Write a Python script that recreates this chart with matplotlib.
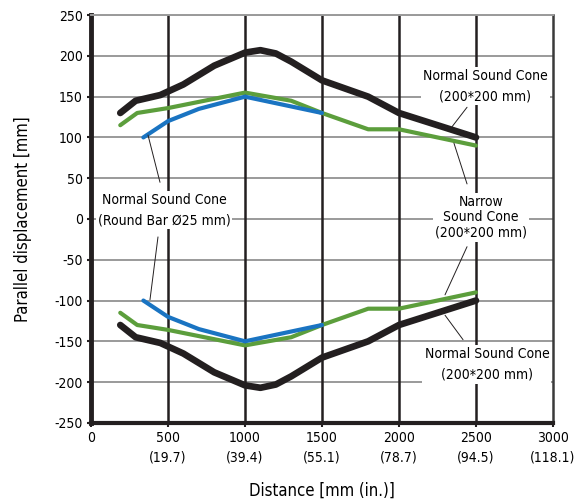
import numpy as np
import matplotlib
matplotlib.use("Agg")
import matplotlib.pyplot as plt

plt.rcParams['font.family'] = ['DejaVu Sans']
plt.rcParams['font.stretch'] = 'condensed'
plt.rcParams['axes.unicode_minus'] = False

# %%
# upper branch
x_black = [190, 290, 450, 600, 800, 1000, 1100, 1200, 1300, 1500, 1800, 2000, 2500]
y_black = [130, 145, 152, 165, 188, 204, 207, 203, 193, 170, 150, 130, 100]
x_green = [190, 300, 500, 1000, 1300, 1500, 1800, 2000, 2500]
y_green = [115, 130, 136, 155, 145, 130, 110, 110, 90]
x_blue = [340, 500, 700, 1000, 1500]
y_blue = [100, 120, 135, 150, 130]

# lower branch
y_black_low = [-130, -145, -152, -165, -188, -204, -207, -203, -193, -170, -150, -130, -100]
y_green_low = [-115, -130, -136, -155, -145, -130, -110, -110, -90]
y_blue_low = [-100, -120, -135, -150, -130]

xticks = [0, 500, 1000, 1500, 2000, 2500, 3000]
xlabels = ['0', '500\n(19.7)', '1000\n(39.4)', '1500\n(55.1)',
           '2000\n(78.7)', '2500\n(94.5)', '3000\n(118.1)']
yticks = list(range(-250, 251, 50))

black = '#231f20'
green = '#5c9e3c'
blue = '#1a74c2'

# %%
fig = plt.figure(figsize=(5.76, 5.04), dpi=100)
ax = fig.add_axes([0.158, 0.161, 0.802, 0.809])

for y in yticks:
    ax.axhline(y, color='#9a9a9a', lw=1.4, zorder=1)
for x in xticks[1:-1]:
    ax.axvline(x, color=black, lw=1.8, zorder=1)

kw = dict(solid_capstyle='round', solid_joinstyle='round', zorder=3)
ax.plot(x_black, y_black, color=black, lw=4.8, **kw)
ax.plot(x_black, y_black_low, color=black, lw=4.8, **kw)
ax.plot(x_green, y_green, color=green, lw=3.0, **kw)
ax.plot(x_green, y_green_low, color=green, lw=3.0, **kw)
ax.plot(x_blue, y_blue, color=blue, lw=3.0, **kw)
ax.plot(x_blue, y_blue_low, color=blue, lw=3.0, **kw)

ax.set_xlim(0, 3000)
ax.set_ylim(-250, 250)
ax.set_xticks(xticks)
ax.set_xticklabels(xlabels)
ax.set_yticks(yticks)
ax.tick_params(labelsize=10, length=3, width=1.5, color=black, pad=3)
for lab in ax.get_xticklabels():
    lab.set_linespacing(1.5)

ax.spines['left'].set_linewidth(3.5)
ax.spines['bottom'].set_linewidth(3.0)
ax.spines['left'].set_color(black)
ax.spines['bottom'].set_color(black)
ax.spines['right'].set_linewidth(1.8)
ax.spines['right'].set_color('#3a3a3a')
ax.spines['top'].set_linewidth(1.4)
ax.spines['top'].set_color('#9a9a9a')

ax.set_xlabel('Distance [mm (in.)]', fontsize=12, labelpad=12)
ax.set_ylabel('Parallel displacement [mm]', fontsize=12, labelpad=16)

box = dict(facecolor='white', edgecolor='none', pad=1.5)
tkw = dict(fontsize=10, ha='center', va='center', linespacing=1.6, bbox=box, zorder=2)
ax.text(474, 11, 'Normal Sound Cone\n(Round Bar Ø25 mm)', **tkw)
ax.text(2560, 163, 'Normal Sound Cone\n(200*200 mm)', **tkw)
ax.text(2532, 2, 'Narrow\nSound Cone\n(200*200 mm)', fontsize=10, ha='center',
        va='center', linespacing=1.1, bbox=box, zorder=2)
ax.text(2571, -178, 'Normal Sound Cone\n(200*200 mm)', **tkw)

# leader lines
lkw = dict(arrowprops=dict(arrowstyle='-', color=black, lw=0.7, shrinkA=0, shrinkB=0), zorder=4)
ax.annotate('', xy=(370, 103), xytext=(448, 45), **lkw)
ax.annotate('', xy=(383, -99), xytext=(435, -22), **lkw)
ax.annotate('', xy=(2344, 113), xytext=(2442, 137), **lkw)
ax.annotate('', xy=(2357, 93), xytext=(2442, 43), **lkw)
ax.annotate('', xy=(2299, -93), xytext=(2442, -34), **lkw)
ax.annotate('', xy=(2299, -118), xytext=(2416, -148), **lkw)

fig.savefig('out.png', dpi=100)
